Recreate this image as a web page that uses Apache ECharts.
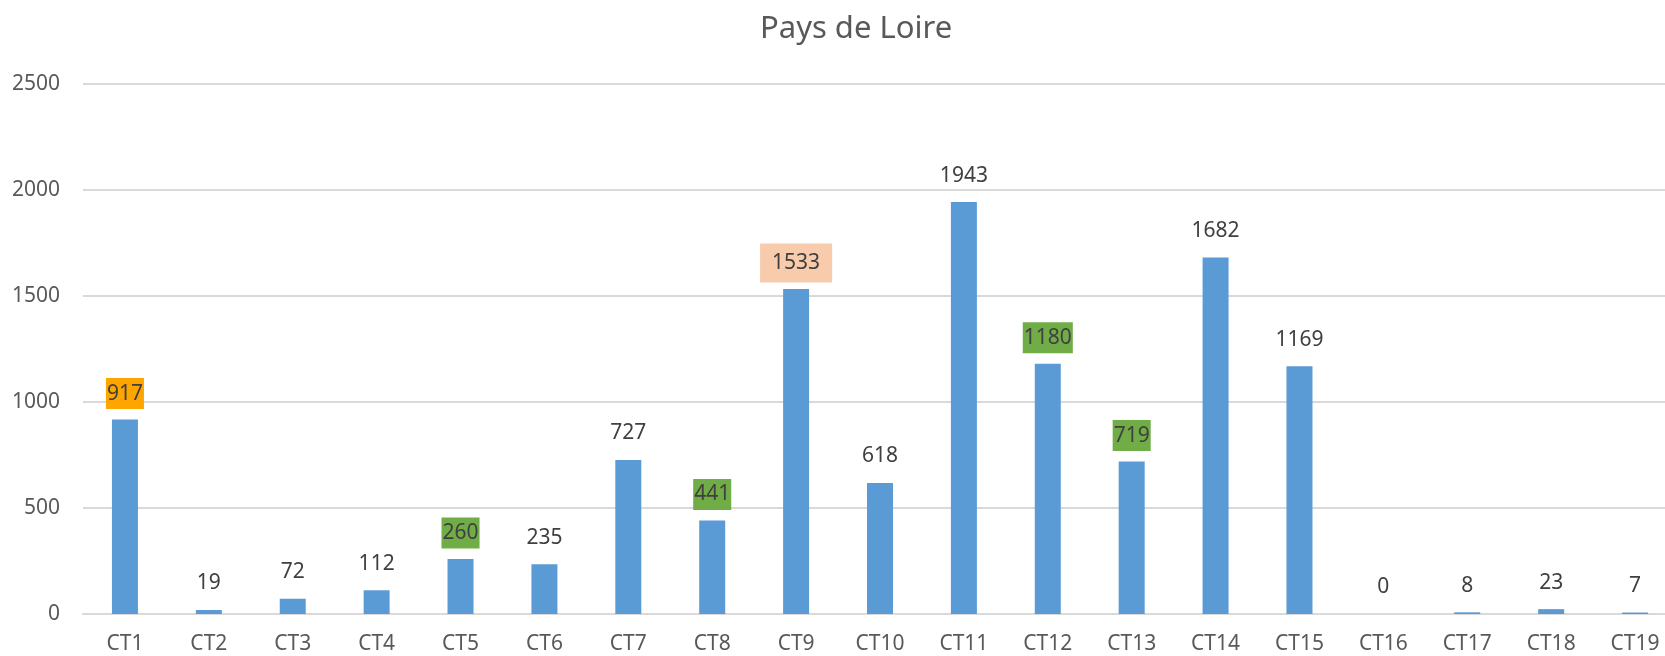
<!DOCTYPE html>
<html lang="fr">
<head>
    <meta charset="UTF-8">
    <title>Pays de Loire</title>
    <style>
        html, body { margin: 0; padding: 0; background: #fff; }
        #main { width: 1665px; height: 656px; }
    </style>
</head>
<body>
    <div id="main"></div>
    <script src="https://cdn.jsdelivr.net/npm/echarts@6/dist/echarts.min.js"></script>
    <script>
        // donnees
        var categories = ['CT1','CT2','CT3','CT4','CT5','CT6','CT7','CT8','CT9','CT10',
                          'CT11','CT12','CT13','CT14','CT15','CT16','CT17','CT18','CT19'];
        var values = [917, 19, 72, 112, 260, 235, 727, 441, 1533, 618,
                      1943, 1180, 719, 1682, 1169, 0, 8, 23, 7];
        var yTicks = [0, 500, 1000, 1500, 2000, 2500];

        // etiquettes surlignees (index -> couleur de fond)
        var highlight = {
            0: '#FFA500',
            4: '#70AD47',
            7: '#70AD47',
            8: '#F8CBAD',
            11: '#70AD47',
            12: '#70AD47'
        };

        var font = 'Noto Sans';

        var seriesData = values.map(function (v, i) {
            var bg = highlight[i];
            if (!bg) return v;
            var big = (i === 8);
            var pad = big ? [9, 12] : [5, 1];
            var h = 21 + pad[0] * 2;
            return {
                value: v,
                label: {
                    backgroundColor: bg,
                    padding: pad,
                    distance: 26 - h / 2
                }
            };
        });

        var myChart = echarts.init(document.getElementById('main'));

        var option = {
            animation: false,
            title: {
                text: 'Pays de Loire',
                left: 755,
                top: 9,
                textStyle: {
                    fontFamily: font,
                    fontSize: 31,
                    fontWeight: 'normal',
                    color: '#595959'
                }
            },
            grid: {
                left: 83,
                width: 1594,
                top: 84,
                bottom: 42,
                containLabel: false,
                outerBoundsMode: 'none'
            },
            xAxis: {
                type: 'category',
                data: categories,
                axisTick: { show: false },
                axisLine: { lineStyle: { color: '#d9d9d9', width: 2 } },
                axisLabel: {
                    margin: 20,
                    fontFamily: font,
                    fontSize: 21,
                    color: '#595959'
                }
            },
            yAxis: {
                type: 'value',
                min: yTicks[0],
                max: yTicks[yTicks.length - 1],
                interval: 500,
                axisLine: { show: false },
                axisTick: { show: false },
                splitLine: { lineStyle: { color: '#d9d9d9', width: 2 } },
                axisLabel: {
                    margin: 23,
                    fontFamily: font,
                    fontSize: 21,
                    color: '#595959',
                    formatter: function (v) { return String(v); }
                }
            },
            series: [
                {
                    type: 'bar',
                    data: seriesData,
                    barWidth: 26,
                    itemStyle: { color: '#5B9BD5' },
                    label: {
                        show: true,
                        position: 'top',
                        distance: 16,
                        fontFamily: font,
                        fontSize: 21,
                        lineHeight: 21,
                        color: '#404040'
                    }
                }
            ]
        };

        myChart.setOption(option);
    </script>
</body>
</html>
